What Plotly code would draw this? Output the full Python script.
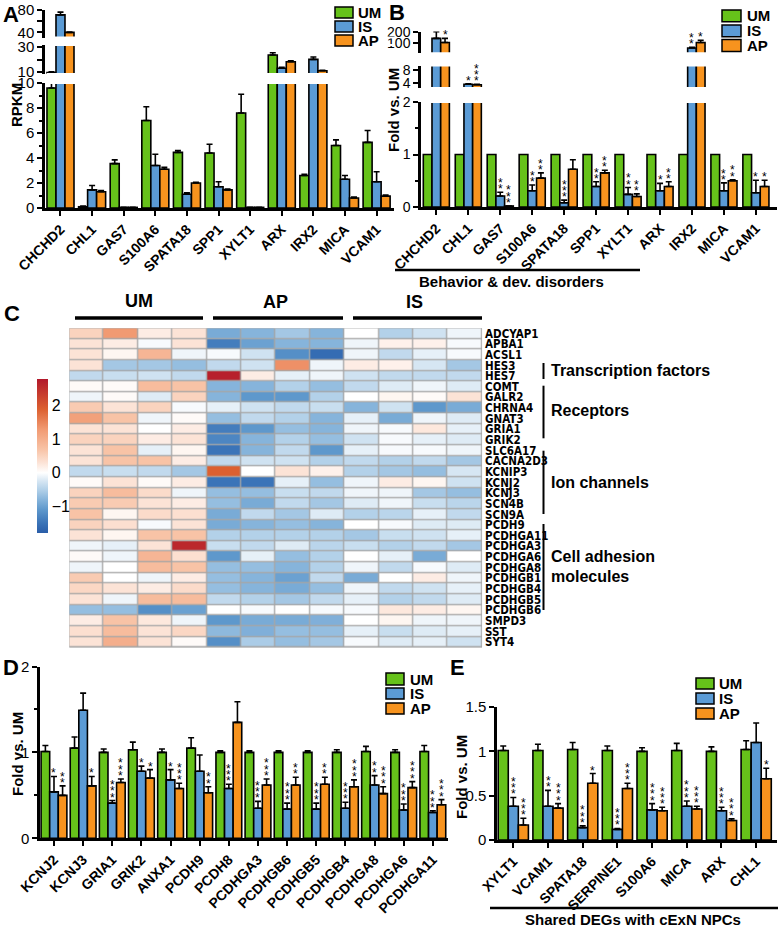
import plotly.graph_objects as go

W, H = 778, 927
FONT = "Liberation Sans, Arial, Helvetica, sans-serif"
NARROW = "Liberation Sans Narrow, Arial Narrow, DejaVu Sans Condensed, sans-serif"
GREEN, BLUE, ORANGE = "#66C21A", "#5B9BD5", "#F7931E"

# ---------------- data ----------------
genes_AB = ["CHCHD2", "CHL1", "GAS7", "S100A6", "SPATA18", "SPP1", "XYLT1",
            "ARX", "IRX2", "MICA", "VCAM1"]
# Panel A (RPKM)
A_UM = [9.6, 0.1, 3.55, 7.0, 4.45, 4.4, 7.6, 23.6, 2.6, 5.0, 5.25]
A_UM_err = [0.5, 0.05, 0.3, 1.1, 0.15, 0.7, 1.5, 1.8, 0.1, 0.45, 0.95]
A_IS = [71, 1.45, 0.05, 3.4, 1.1, 1.7, 0.05, 13.0, 20.1, 2.3, 2.1]
A_IS_err = [4.8, 0.35, 0.0, 0.9, 0.12, 0.4, 0.0, 0.8, 1.9, 0.3, 0.8]
A_AP = [40, 1.3, 0.05, 3.1, 2.0, 1.45, 0.05, 18.2, 11.0, 0.8, 0.95]
A_AP_err = [0.5, 0.1, 0.0, 0.15, 0.05, 0.07, 0.0, 0.8, 0.3, 0.07, 0.08]
# Panel B (fold vs UM)
B_UM = [1, 1, 1, 1, 1, 1, 1, 1, 1, 1, 1]
B_IS = [143, 3.75, 0.21, 0.31, 0.08, 0.39, 0.24, 0.31, 57, 0.31, 0.27]
B_IS_err = [60, 0.15, 0.07, 0.11, 0.05, 0.09, 0.13, 0.14, 6, 0.15, 0.24]
B_AP = [106, 3.6, 0.02, 0.55, 0.72, 0.65, 0.2, 0.39, 106, 0.5, 0.39]
B_AP_err = [37, 0.1, 0.0, 0.1, 0.18, 0.05, 0.05, 0.09, 21, 0.02, 0.12]
B_IS_stars = [0, 1, 2, 2, 3, 2, 2, 1, 2, 2, 1]
B_AP_stars = [1, 3, 3, 2, 0, 2, 2, 2, 1, 2, 1]

# Panel C heatmap
hm_genes = ["ADCYAP1", "APBA1", "ACSL1", "HES3", "HES7", "COMT", "GALR2", "CHRNA4",
            "GNAT3", "GRIA1", "GRIK2", "SLC6A17", "CACNA2D3", "KCNIP3", "KCNJ2",
            "KCNJ3", "SCN4B", "SCN9A", "PCDH9", "PCDHGA11", "PCDHGA3", "PCDHGA6",
            "PCDHGA8", "PCDHGB1", "PCDHGB4", "PCDHGB5", "PCDHGB6", "SMPD3", "SST", "SYT4"]
UM1 = [0.5, 0.3, 0.3, 0.3, -0.4, 0.05, -0.1, 0.6, 1.2, 0.3, 0.5, 0.3, 0.3, -0.4, 0.05,
       0.5, 0.6, 0.7, 0.5, 0.3, -0.1, 0.05, -0.1, 0.6, 0.45, 0.3, -0.7, 0.2, 0.35, 0.3]
UM2 = [1.3, 0.2, 0.1, -0.6, -0.35, 0.05, 0.05, 0.3, 0.7, 0.3, 0.5, 0.7, 0.7, -0.35, 0.3,
       0.8, 0.6, 0.1, 0.35, 0.1, -0.15, -0.1, 0.0, 0.0, 0.3, -0.1, -0.7, 0.7, 0.8, 1.0]
UM3 = [0.2, -0.05, 0.9, -0.6, -0.3, 0.8, -0.2, 0.5, -0.1, 0.0, 0.2, -0.15, 0.7, -0.4, 0.05,
       0.4, 0.3, 0.4, -0.05, 0.7, 0.3, 0.9, 0.8, -0.1, 0.2, 0.8, -1.2, 0.25, 0.3, 0.3]
UM4 = [0.3, 0.3, -0.1, -0.7, -0.4, 0.7, 0.5, -0.05, 0.05, 0.2, 0.3, 0.1, 0.2, -0.6, 0.2,
       -0.1, 0.2, 0.35, 0.3, 0.7, 2.6, 0.35, 0.7, 0.2, 0.4, 0.8, -1.0, -0.1, 0.45, 0.05]
AP1 = [-0.9, -1.4, -0.05, -0.4, 2.7, -0.8, -0.8, -0.15, -0.7, -1.4, -1.3, -1.5, -0.4, 1.9, -1.5,
       -0.7, -0.7, -0.9, -0.9, -0.5, -0.35, -1.1, -0.7, -0.7, -0.7, -0.4, 0.0, -1.1, -0.75, -1.2]
AP2 = [-0.8, -1.0, -0.3, -0.3, 0.2, -0.8, -1.1, -0.3, -0.4, -1.1, -0.8, -0.8, -0.3, 0.0, -1.5,
       -0.7, -0.9, -0.4, -0.8, -0.5, -0.4, -0.15, -0.7, -0.8, -0.8, -0.5, -0.05, -0.9, -0.85, -0.55]
AP3 = [-0.6, -0.8, -1.2, 1.4, -0.15, -0.5, -1.1, -0.4, -0.5, -0.7, -0.5, -0.4, -0.3, 0.3, -0.15,
       -0.35, -0.4, -0.6, -0.7, -0.5, -0.2, -0.7, -0.8, -1.0, -0.9, -0.6, 0.0, -0.9, -0.7, -0.7]
AP4 = [-0.8, -0.8, -1.6, -0.1, -0.1, -0.7, -0.5, -0.35, -0.8, -0.8, -0.7, -1.1, -0.5, 0.15, -0.7,
       -0.4, -0.6, -0.2, -0.8, -0.5, -0.45, -0.5, -0.5, -0.4, -0.7, -0.4, -0.05, -0.85, -0.7, -0.6]
IS1 = [0.0, -0.1, -0.1, 0.2, -0.3, -0.4, 0.0, -0.8, -0.15, -0.1, -0.3, -0.15, -0.4, -0.5, -0.1,
       -0.1, -0.2, -0.5, 0.0, -0.6, -0.35, 0.0, -0.1, -0.9, -0.1, -0.15, -0.05, 0.0, -0.15, -0.05]
IS2 = [-0.5, 0.15, -0.4, 0.15, -0.4, -0.2, 0.1, -0.3, -0.9, -0.05, -0.05, -0.05, -0.5, -0.6, 0.2,
       -0.1, -0.1, -0.45, -0.05, -0.35, -0.5, -0.15, -0.4, 0.0, -0.4, -0.5, 0.25, 0.1, -0.35, -0.2]
IS3 = [-0.3, 0.15, -0.15, -0.25, -0.4, -0.1, 0.05, -1.1, -0.1, 0.25, -0.15, -0.05, -0.4, -0.7, 0.1,
       -0.6, -0.35, -0.15, -0.2, -0.3, -0.4, -0.9, -0.05, 0.2, -0.3, -0.4, 0.2, -0.1, -0.2, -0.15]
IS4 = [-0.1, -0.05, -0.05, -0.6, -0.4, -0.2, 0.3, -0.9, -0.2, -0.15, -0.2, -0.1, -0.6, -0.25, -0.3,
       -0.7, -0.45, -0.4, -0.2, -0.15, -0.6, 0.0, -0.2, -0.1, -0.15, -0.2, 0.1, -0.1, -0.15, -0.3]
hm_cols = [UM1, UM2, UM3, UM4, AP1, AP2, AP3, AP4, IS1, IS2, IS3, IS4]
cbar_ticks = [-1, 0, 1, 2]

# Panel D
genes_D = ["KCNJ2", "KCNJ3", "GRIA1", "GRIK2", "ANXA1", "PCDH9", "PCDH8", "PCDHGA3",
           "PCDHGB6", "PCDHGB5", "PCDHGB4", "PCDHGA8", "PCDHGA6", "PCDHGA11"]
D_UM = [1.01, 1.05, 1.0, 1.03, 1.0, 1.05, 1.0, 1.0, 1.0, 1.0, 1.0, 1.01, 1.0, 1.01]
D_UM_err = [0.07, 0.13, 0.04, 0.09, 0.04, 0.12, 0.02, 0.02, 0.02, 0.02, 0.03, 0.06, 0.03, 0.07]
D_IS = [0.54, 1.49, 0.41, 0.78, 0.68, 0.78, 0.58, 0.35, 0.34, 0.34, 0.35, 0.62, 0.33, 0.30]
D_IS_err = [0.18, 0.2, 0.03, 0.06, 0.12, 0.19, 0.05, 0.08, 0.07, 0.07, 0.07, 0.11, 0.07, 0.02]
D_AP = [0.50, 0.61, 0.65, 0.70, 0.58, 0.53, 1.35, 0.62, 0.62, 0.63, 0.60, 0.52, 0.59, 0.39]
D_AP_err = [0.11, 0.11, 0.04, 0.1, 0.06, 0.07, 0.24, 0.07, 0.09, 0.08, 0.08, 0.08, 0.07, 0.06]
D_IS_stars = [1, 0, 3, 1, 1, 0, 3, 3, 3, 3, 3, 2, 3, 3]
D_AP_stars = [2, 1, 3, 1, 3, 2, 0, 3, 2, 2, 3, 3, 3, 3]

# Panel E
genes_E = ["XYLT1", "VCAM1", "SPATA18", "SERPINE1", "S100A6", "MICA", "ARX", "CHL1"]
E_UM = [1.01, 1.01, 1.02, 1.01, 1.0, 1.01, 1.0, 1.02]
E_UM_err = [0.05, 0.07, 0.08, 0.05, 0.04, 0.08, 0.05, 0.1]
E_IS = [0.38, 0.38, 0.14, 0.12, 0.34, 0.38, 0.33, 1.10]
E_IS_err = [0.1, 0.18, 0.02, 0.01, 0.07, 0.06, 0.04, 0.22]
E_AP = [0.17, 0.36, 0.64, 0.58, 0.33, 0.35, 0.22, 0.69]
E_AP_err = [0.075, 0.05, 0.11, 0.06, 0.04, 0.03, 0.02, 0.12]
E_IS_stars = [3, 2, 3, 3, 3, 3, 3, 0]
E_AP_stars = [3, 3, 1, 3, 3, 3, 3, 1]


# ---------------- helpers ----------------
def px(x):
    return x / W


def py(y):
    return 1 - y / H


fig = go.Figure()


def bars(xa, ya, n, series, w, lo=None):
    for k, (vals, errs, col) in enumerate(series):
        yv = vals if lo is None else [v if v > lo else None for v in vals]
        err = dict(type="data", symmetric=False,
                   array=errs if errs is not None else [0] * n,
                   arrayminus=[0] * n, color="black", thickness=1.6, width=3,
                   visible=errs is not None)
        fig.add_trace(go.Bar(
            x=list(range(n)), y=yv, width=w, offset=-1.5 * w + k * w,
            xaxis=xa, yaxis=ya,
            marker=dict(color=col, line=dict(color="black", width=1.6)),
            error_y=err, showlegend=False, hoverinfo="skip"))


def stars(xref, yref, x, top, n):
    for j in range(n):
        fig.add_annotation(x=x, y=top, xref=xref, yref=yref, text="*",
                           showarrow=False, yanchor="middle", xanchor="center",
                           yshift=3 + 6.3 * j,
                           font=dict(family=FONT, size=12, color="black"))


AXLINE = dict(showline=True, linecolor="black", linewidth=2.5, ticks="outside",
              ticklen=5, tickwidth=2, tickcolor="black", showgrid=False,
              zeroline=False, fixedrange=True, automargin=False)


def xax(x0, x1, rng, labels, anchor):
    d = dict(domain=[px(x0), px(x1)], range=rng, anchor=anchor,
             tickmode="array", tickvals=list(range(len(labels))), ticktext=labels,
             tickangle=-45,
             tickfont=dict(family=FONT, size=14, color="black", weight="bold"))
    d.update(AXLINE)
    return d


def yax(ytop, ybot, rng, anchor, fs=15, **kw):
    d = dict(domain=[py(ybot), py(ytop)], range=rng, anchor=anchor,
             tickfont=dict(family=FONT, size=fs, color="black"))
    d.update(AXLINE)
    d.update(kw)
    return d


MINOR = lambda dt: dict(dtick=dt, ticks="outside", ticklen=3, tickwidth=1.5,
                        tickcolor="black", showgrid=False)

# ---------------- Panel A (broken axis: three stacked segments) ----------------
nA = len(genes_AB)
wA = 0.285
serA = [(A_UM, A_UM_err, GREEN), (A_IS, A_IS_err, BLUE), (A_AP, A_AP_err, ORANGE)]
A_SEG = [("y", [0, 10], 83, 208), ("y2", [8.4, 31.6], 45, 74), ("y3", [31, 80.5], 9.5, 37.5)]
for ya, rng, _, _ in A_SEG:
    bars("x", ya, nA, serA, wA, lo=None if rng[0] == 0 else rng[0])

# ---------------- Panel B ----------------
wB = 0.272
serB = [(B_UM, None, GREEN), (B_IS, B_IS_err, BLUE), (B_AP, B_AP_err, ORANGE)]
B_SEG = [("y4", [0, 2], 102, 207), ("y5", [2.6, 9.5], 65.5, 88), ("y6", [9, 205], 31.5, 53.3)]
for ya, rng, _, _ in B_SEG:
    bars("x2", ya, nA, serB, wB, lo=None if rng[0] == 0 else rng[0])
for k, (vals, errs, st) in enumerate([(B_IS, B_IS_err, B_IS_stars), (B_AP, B_AP_err, B_AP_stars)], start=1):
    for i in range(nA):
        top = vals[i] + errs[i]
        ya = "y6" if top > 9.5 else ("y5" if top > 2.6 else "y4")
        stars("x2", ya, i + (k - 1) * wB, top, st[i])

# ---------------- Panel C heatmap ----------------
z = [[col[r] for col in hm_cols] for r in range(len(hm_genes))]
CS = [[0.0, "#2A5DA8"], [0.0652, "#3B74B8"], [0.152, "#5E98CC"], [0.217, "#86B4DB"],
      [0.283, "#B3D1E9"], [0.337, "#D6E6F3"], [0.391, "#FFFFFF"], [0.457, "#FCE3D6"],
      [0.543, "#F8C3A6"], [0.674, "#F19A72"], [0.804, "#DC6030"], [1.0, "#B2182B"]]
fig.add_trace(go.Heatmap(
    z=z, x=list(range(12)), y=list(range(len(hm_genes))), xaxis="x3", yaxis="y7",
    colorscale=CS, zmin=-1.8, zmax=2.8, xgap=1.3, ygap=1.3, hoverinfo="skip",
    colorbar=dict(x=px(27), xanchor="left", y=py(456), yanchor="middle",
                  len=174, lenmode="pixels", thickness=11, thicknessmode="pixels",
                  outlinewidth=0, tickmode="array", tickvals=cbar_ticks,
                  ticktext=["\u22121", "0", "1", "2"], ticks="",
                  tickfont=dict(family=FONT, size=16, color="black"))))
fig.add_shape(type="rect", xref="x3", yref="y7", x0=-0.5, x1=11.5, y0=-0.5,
              y1=len(hm_genes) - 0.5, fillcolor="#A6A6A6",
              line=dict(color="#A6A6A6", width=1), layer="below")

# ---------------- Panel D ----------------
nD = len(genes_D)
wD = 0.295
bars("x4", "y8", nD, [(D_UM, D_UM_err, GREEN), (D_IS, D_IS_err, BLUE), (D_AP, D_AP_err, ORANGE)], wD)
for k, (vals, errs, st) in enumerate([(D_IS, D_IS_err, D_IS_stars), (D_AP, D_AP_err, D_AP_stars)], start=1):
    for i in range(nD):
        stars("x4", "y8", i + (k - 1) * wD, vals[i] + errs[i], st[i])

# ---------------- Panel E ----------------
nE = len(genes_E)
wE = 0.29
bars("x5", "y9", nE, [(E_UM, E_UM_err, GREEN), (E_IS, E_IS_err, BLUE), (E_AP, E_AP_err, ORANGE)], wE)
for k, (vals, errs, st) in enumerate([(E_IS, E_IS_err, E_IS_stars), (E_AP, E_AP_err, E_AP_stars)], start=1):
    for i in range(nE):
        stars("x5", "y9", i + (k - 1) * wE, vals[i] + errs[i], st[i])

# ---------------- axes ----------------
hm_x = dict(domain=[px(69.3), px(482.1)], range=[-0.5, 11.5], anchor="y7",
            visible=False, fixedrange=True)
hm_y = dict(domain=[py(647.5), py(328.3)], range=[len(hm_genes) - 0.5, -0.5],
            anchor="x3", side="right", tickmode="array",
            tickvals=list(range(len(hm_genes))), ticktext=hm_genes, ticks="",
            showline=False, showgrid=False, zeroline=False, ticklabelstandoff=2,
            automargin=False,
            tickfont=dict(family=NARROW, size=11.5, color="black", weight="bold"),
            fixedrange=True)

fig.update_layout(
    width=W, height=H, margin=dict(l=0, r=0, t=0, b=0, pad=0, autoexpand=False),
    paper_bgcolor="white", plot_bgcolor="white", barmode="overlay",
    font=dict(family=FONT, color="black"),
    xaxis=xax(45, 394, [-0.49, 10.55], genes_AB, "y"),
    yaxis=yax(83, 208, A_SEG[0][1], "x", tickmode="linear", tick0=0, dtick=2, minor=MINOR(1)),
    yaxis2=yax(45, 74, A_SEG[1][1], "x", tickmode="array", tickvals=[10, 20, 30],
               ticktext=["10", "", "30"]),
    yaxis3=yax(9.5, 37.5, A_SEG[2][1], "x", tickmode="array", tickvals=[40, 60, 80],
               ticktext=["40", "", "80"]),
    xaxis2=xax(421, 777, [-0.48, 10.66], genes_AB, "y4"),
    yaxis4=yax(102, 207, B_SEG[0][1], "x2", fs=14, tickmode="linear", tick0=0, dtick=1,
               minor=MINOR(0.5)),
    yaxis5=yax(65.5, 88, B_SEG[1][1], "x2", fs=14, tickmode="array", tickvals=[4, 8]),
    yaxis6=yax(31.5, 53.3, B_SEG[2][1], "x2", fs=14, tickmode="array", tickvals=[100, 200]),
    xaxis3=hm_x, yaxis7=hm_y,
    xaxis4=xax(40, 448, [-0.48, 13.52], genes_D, "y8"),
    yaxis8=yax(666.5, 838.3, [0, 2], "x4", tickmode="linear", tick0=0, dtick=1, minor=MINOR(0.5)),
    xaxis5=xax(497, 777, [-0.47, 7.6], genes_E, "y9"),
    yaxis9=yax(707, 840, [0, 1.5], "x5", tickmode="linear", tick0=0, dtick=0.5),
)


# ---------------- text, legends, decorations ----------------
def text(x, y, s, size, bold=True, angle=0, xanchor="center", family=FONT):
    fig.add_annotation(x=px(x), y=py(y), xref="paper", yref="paper", text=s,
                       showarrow=False, xanchor=xanchor, yanchor="middle",
                       textangle=angle,
                       font=dict(family=family, size=size, color="black",
                                 weight="bold" if bold else "normal"))


def hline(x0, x1, y, w=2.5, color="black"):
    fig.add_shape(type="line", xref="paper", yref="paper", x0=px(x0), x1=px(x1),
                  y0=py(y), y1=py(y), line=dict(color=color, width=w))


def vline(x, y0, y1, w=2):
    fig.add_shape(type="line", xref="paper", yref="paper", x0=px(x), x1=px(x),
                  y0=py(y0), y1=py(y1), line=dict(color="black", width=w))


def legend(x0, x1, ys, tx):
    for (ya, yb), name, col in zip(ys, ["UM", "IS", "AP"], [GREEN, BLUE, ORANGE]):
        fig.add_shape(type="rect", xref="paper", yref="paper", x0=px(x0), x1=px(x1),
                      y0=py(yb), y1=py(ya), fillcolor=col,
                      line=dict(color="black", width=1.5))
        text(tx, (ya + yb) / 2, name, 15, xanchor="left")


# hide clipped bar edges at the axis breaks
for y in [83, 74, 45, 37.5]:
    hline(46.6, 394, y, w=2, color="white")
for y in [102, 88, 65.5, 53.3]:
    hline(422.6, 777, y, w=2, color="white")

# panel letters
text(11, 14, "A", 22)
text(397, 13, "B", 22)
text(12, 313, "C", 22)
text(11, 667, "D", 22)
text(457, 667, "E", 22)

# axis titles
text(17, 105, "RPKM", 15, angle=-90)
text(393, 110, "Fold vs. UM", 15, angle=-90)
text(17, 754, "Fold vs. UM", 15, angle=-90)
text(461, 777, "Fold vs. UM", 15, angle=-90)

# legends
legend(335, 353, [(7, 18), (21, 32), (35, 46)], 356)
legend(722, 741, [(10, 21.7), (25, 36.7), (39.5, 51.5)], 745)
legend(386, 404, [(673, 685), (688, 699), (703, 714)], 408)
legend(696, 714, [(678, 689), (693, 704), (708, 719)], 717)

# B footnote
hline(395, 640, 270)
text(512, 282, "Behavior &amp; dev. disorders", 15)
# E footnote
hline(490, 778, 908)
text(633, 919, "Shared DEGs with cExN NPCs", 15)

# heatmap group labels
hline(75, 203, 318, 3.5)
hline(213, 343, 318, 3.5)
hline(353, 482, 318, 3.5)
text(139, 301, "UM", 18)
text(275, 302, "AP", 18)
text(414, 302, "IS", 18)

# category brackets
vline(543.5, 363, 379)
vline(543.5, 385.7, 438.3)
vline(543.5, 450.7, 514)
vline(543.5, 524, 610)
text(549, 370, "Transcription factors", 16, xanchor="left")
text(549, 411, "Receptors", 16, xanchor="left")
text(549, 482, "Ion channels", 16, xanchor="left")
text(549, 556, "Cell adhesion", 16, xanchor="left")
text(549, 576, "molecules", 16, xanchor="left")

# the page body normally adds an 8px margin; remove it so the figure sits at 0,0
fig.write_html("out.html", config={"displayModeBar": False},
               post_script="document.body.style.margin='0px';document.body.style.overflow='hidden';")
